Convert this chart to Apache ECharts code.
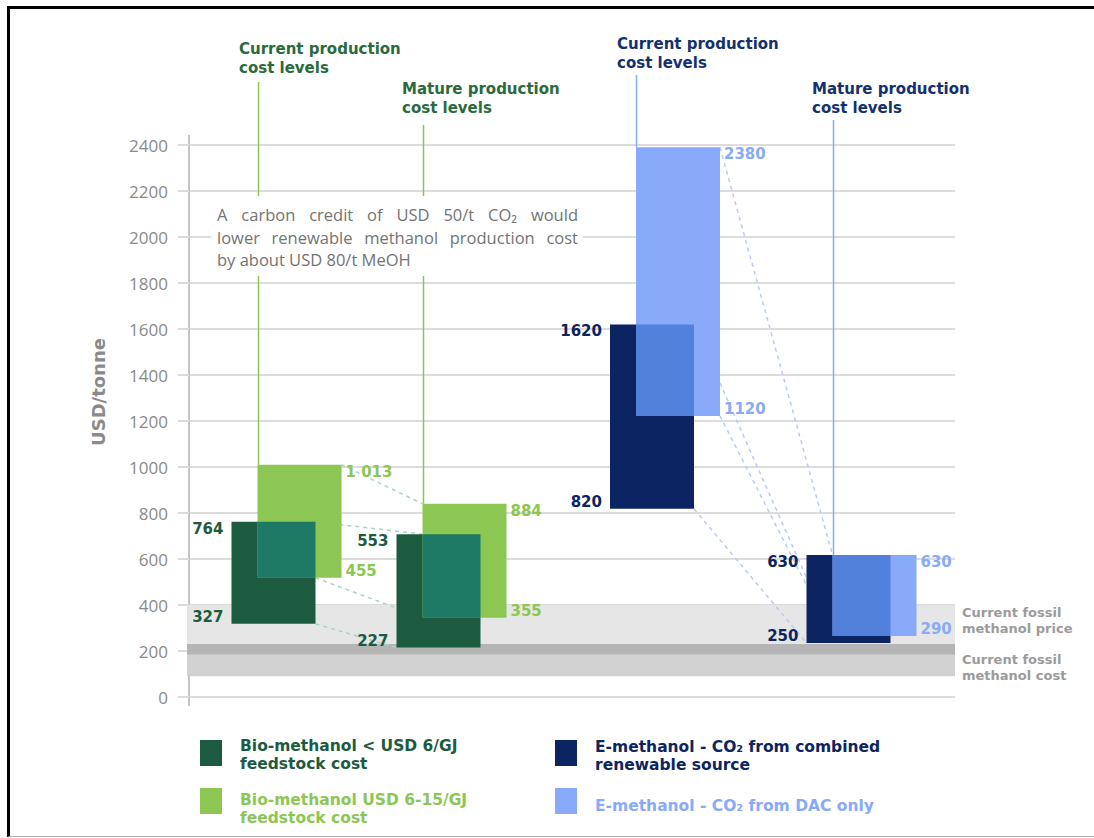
<!DOCTYPE html>
<html>
<head>
<meta charset="utf-8">
<script src="https://cdn.jsdelivr.net/npm/echarts@6.0.0/dist/echarts.min.js"></script>
<style>
  html, body { margin: 0; padding: 0; background: #fff; }
  #c { width: 1094px; height: 838px; }
  #frame { position: absolute; left: 7px; top: 6px; width: 1087px; height: 831px;
           border-top: 3px solid #000; border-left: 3px solid #000; border-bottom: 1px solid #b0b0b0;
           box-sizing: border-box; pointer-events: none; }
</style>
</head>
<body>
<div id="c"></div>
<div id="frame"></div>
<script>
// ================= DATA =================
const stageTitles = ['Current production\ncost levels', 'Mature production\ncost levels'];
const yTicks = [0, 200, 400, 600, 800, 1000, 1200, 1400, 1600, 1800, 2000, 2200, 2400];

// Bio-methanol < USD 6/GJ feedstock cost  (current, mature) — drawn extents
const bioCheapLow  = [318, 215];
const bioCheapHigh = [762, 708];
const bioCheapLowLabel  = ['327', '227'];
const bioCheapHighLabel = ['764', '553'];

// Bio-methanol USD 6-15/GJ feedstock cost
const bioExpLow  = [518, 345];
const bioExpHigh = [1010, 840];
const bioExpLowLabel  = ['455', '355'];
const bioExpHighLabel = ['1 013', '884'];

// E-methanol - CO2 from combined renewable source
const eComLow  = [818, 235];
const eComHigh = [1620, 617];
const eComLowLabel  = ['820', '250'];
const eComHighLabel = ['1620', '630'];

// E-methanol - CO2 from DAC only
const eDacLow  = [1222, 265];
const eDacHigh = [2390, 617];
const eDacLowLabel  = ['1120', '290'];
const eDacHighLabel = ['2380', '630'];

// Fossil reference bands [low, high]
const fossilPrice = [185, 400];
const fossilCost  = [90, 230];

const seriesNames = [
  'Bio-methanol < USD 6/GJ\nfeedstock cost',
  'Bio-methanol USD 6-15/GJ\nfeedstock cost',
  'E-methanol - CO₂ from combined\nrenewable source',
  'E-methanol - CO₂ from DAC only'
];
const bandNames = ['Current fossil\nmethanol price', 'Current fossil\nmethanol cost'];
const noteLines = [
  'A carbon credit of USD 50/t CO₂ would',
  'lower renewable methanol production cost',
  'by about USD 80/t MeOH'
];
const yAxisTitle = 'USD/tonne';

// ================= LAYOUT / STYLE =================
const GRID = { left: 189, top: 145, right: 139, bottom: 141 };
const XMAX = 766;
const GROUP_CENTER = [[97.5, 262.5], [476, 672.5]];   // [family][stage]
const DARK_SPAN = [-55, 29];
const LIGHT_SPAN = [-29, 55];
const C = {
  dGreen: '#1d5b40', lGreen: '#8cc653', teal: '#1e7a64', gDash: '#a9d3c3',
  navy: '#0c2461', lBlue: '#88aaf8', mBlue: '#5281dc', bDash: '#b7cbf6',
  titleGreen: '#2a6a3c', titleNavy: '#14306e',
  grid: '#dcdcdc', axis: '#c4c4c4', tick: '#8a8a8a', note: '#737373', band: '#9b9b9b'
};
const BOLD = 'DejaVu Sans';

const FAM = [
  { dark: { low: bioCheapLow, high: bioCheapHigh, lowLab: bioCheapLowLabel, highLab: bioCheapHighLabel, color: C.dGreen, name: seriesNames[0] },
    light: { low: bioExpLow, high: bioExpHigh, lowLab: bioExpLowLabel, highLab: bioExpHighLabel, color: C.lGreen, name: seriesNames[1] },
    overlap: C.teal, dash: C.gDash, titleColor: C.titleGreen, lineColor: C.lGreen },
  { dark: { low: eComLow, high: eComHigh, lowLab: eComLowLabel, highLab: eComHighLabel, color: C.navy, name: seriesNames[2] },
    light: { low: eDacLow, high: eDacHigh, lowLab: eDacLowLabel, highLab: eDacHighLabel, color: C.lBlue, name: seriesNames[3] },
    overlap: C.mBlue, dash: C.bDash, titleColor: C.titleNavy, lineColor: C.lBlue }
];

// ================= SERIES =================
const series = [];

// fossil bands (+ computed overlap)
const bandOverlap = [[Math.max(fossilPrice[0], fossilCost[0]), Math.min(fossilPrice[1], fossilCost[1])]];
function bandSeries(name, data, color) {
  return {
    type: 'custom', name, z: 1, silent: true, data,
    renderItem: (p, api) => {
      const a = api.coord([0, api.value(1)]);
      const b = api.coord([XMAX, api.value(0)]);
      return { type: 'rect', shape: { x: a[0] - 2, y: a[1], width: b[0] - a[0] + 2, height: b[1] - a[1] }, style: { fill: color } };
    }
  };
}
series.push(bandSeries('Current fossil methanol price', [fossilPrice], '#e6e6e6'));
series.push(bandSeries('Current fossil methanol cost', [fossilCost], '#d2d2d2'));
series.push(bandSeries('fossil overlap', bandOverlap, '#b5b5b5'));

// dashed connectors (current -> mature)
FAM.forEach((f, fi) => {
  const c0 = GROUP_CENTER[fi][0], c1 = GROUP_CENTER[fi][1];
  let conns;
  if (fi === 0) {
    conns = [
      { x: [c0 + LIGHT_SPAN[1], c1 + LIGHT_SPAN[0]], v: [f.light.high[0], f.light.high[1]] },
      { x: [c0 + DARK_SPAN[1], c1 + LIGHT_SPAN[0]], v: [f.dark.high[0], f.dark.high[1]] },
      { x: [c0 + DARK_SPAN[1], c1 + LIGHT_SPAN[0]], v: [f.light.low[0], f.light.low[1]] },
      { x: [c0 + DARK_SPAN[1], c1 + DARK_SPAN[0]], v: [f.dark.low[0], f.dark.low[1]] }
    ];
  } else {
    conns = [
      { x: [c0 + LIGHT_SPAN[1], c1 + LIGHT_SPAN[0]], v: [f.light.high[0], f.light.high[1]] },
      { x: [c0 + DARK_SPAN[1], c1 + LIGHT_SPAN[0]], v: [f.dark.high[0], f.light.low[1]] },
      { x: [c0 + LIGHT_SPAN[1], c1 + LIGHT_SPAN[0]], v: [f.light.low[0], f.light.low[1]] },
      { x: [c0 + DARK_SPAN[1], c1 + DARK_SPAN[0]], v: [f.dark.low[0], f.dark.low[1]] }
    ];
  }
  series.push({
    type: 'custom', name: 'connectors ' + fi, z: 2, silent: true,
    data: conns.map((k, i) => [i, k.v[0], k.v[1]]),
    renderItem: (p, api) => {
      const k = conns[api.value(0)];
      const a = api.coord([k.x[0], api.value(1)]);
      const b = api.coord([k.x[1], api.value(2)]);
      return { type: 'line', shape: { x1: a[0], y1: a[1], x2: b[0], y2: b[1] },
               style: { stroke: f.dash, lineWidth: 1.5, lineDash: [4, 4] } };
    }
  });
});

// vertical stage lines (from title down to top of light bar)
const LINE_TOP = [[82, 125], [75, 120]];
FAM.forEach((f, fi) => {
  series.push({
    type: 'custom', name: 'stage lines ' + fi, z: 2, silent: true,
    data: [0, 1].map(s => [s, f.light.high[s]]),
    renderItem: (p, api) => {
      const s = api.value(0);
      const b = api.coord([GROUP_CENTER[fi][s] + LIGHT_SPAN[0], api.value(1)]);
      const x = Math.round(b[0]) + 0.5;
      return { type: 'line', shape: { x1: x, y1: LINE_TOP[fi][s], x2: x, y2: b[1] },
               style: { stroke: f.lineColor, lineWidth: 1.5 } };
    }
  });
});

// bars with value labels
function barSeries(fi, key) {
  const f = FAM[fi], b = f[key];
  const span = key === 'dark' ? DARK_SPAN : LIGHT_SPAN;
  const left = key === 'dark';
  return {
    type: 'custom', name: b.name, z: 3,
    itemStyle: { color: b.color },
    data: [0, 1].map(s => [s, b.low[s], b.high[s]]),
    renderItem: (p, api) => {
      const s = api.value(0);
      const c = GROUP_CENTER[fi][s];
      const tl = api.coord([c + span[0], api.value(2)]);
      const br = api.coord([c + span[1], api.value(1)]);
      const lx = left ? tl[0] - 8 : br[0] + 4;
      const ts = { fill: b.color, fontSize: 15, fontWeight: 'bold', fontFamily: BOLD, align: left ? 'right' : 'left' };
      return { type: 'group', children: [
        { type: 'rect', shape: { x: tl[0], y: tl[1], width: br[0] - tl[0], height: br[1] - tl[1] }, style: { fill: b.color } },
        { type: 'text', z2: 10, style: Object.assign({ text: b.highLab[s], x: lx, y: tl[1] + 7, verticalAlign: 'middle' }, ts) },
        { type: 'text', z2: 10, style: Object.assign({ text: b.lowLab[s], x: lx, y: br[1] - 7, verticalAlign: 'middle' }, ts) }
      ] };
    }
  };
}
FAM.forEach((f, fi) => { series.push(barSeries(fi, 'dark')); series.push(barSeries(fi, 'light')); });

// overlaps (computed from the two ranges)
FAM.forEach((f, fi) => {
  series.push({
    type: 'custom', name: 'overlap ' + fi, z: 4, silent: true,
    data: [0, 1].map(s => [s, Math.max(f.dark.low[s], f.light.low[s]), Math.min(f.dark.high[s], f.light.high[s])]),
    renderItem: (p, api) => {
      const s = api.value(0);
      const c = GROUP_CENTER[fi][s];
      const tl = api.coord([c + LIGHT_SPAN[0], api.value(2)]);
      const br = api.coord([c + DARK_SPAN[1], api.value(1)]);
      return { type: 'rect', shape: { x: tl[0], y: tl[1], width: br[0] - tl[0], height: br[1] - tl[1] }, style: { fill: f.overlap } };
    }
  });
});

// ================= GRAPHIC (titles, note, legend, band labels) =================
const graphic = [];

// axis line extension (reference axis runs slightly past the plot)
graphic.push({ type: 'line', z: 0, shape: { x1: 189, y1: 135, x2: 189, y2: 706 }, style: { stroke: C.axis, lineWidth: 2 } });

const titlePos = [[[239, 49], [402, 89]], [[617, 44], [812, 89]]];
FAM.forEach((f, fi) => {
  [0, 1].forEach(s => {
    stageTitles[s].split('\n').forEach((line, li) => {
      graphic.push({ type: 'text', x: titlePos[fi][s][0], y: titlePos[fi][s][1] + li * 19, z: 50,
        style: { text: line, fill: f.titleColor, fontSize: 15, fontWeight: 'bold', fontFamily: BOLD, verticalAlign: 'middle' } });
    });
  });
});

// note box
graphic.push({ type: 'rect', x: 211, y: 196, z: 40, shape: { width: 372, height: 80 }, style: { fill: '#fff' } });
const measureCtx = document.createElement('canvas').getContext('2d');
const NOTE_SIZE = 16.5;
function justified(text, x0, x1, y, justify) {
  const words = text.split(' ');
  measureCtx.font = NOTE_SIZE + 'px "Open Sans"';
  const w = words.map(t => measureCtx.measureText(t).width);
  const space = measureCtx.measureText(' ').width;
  const total = w.reduce((a, b) => a + b, 0);
  const gap = justify ? (x1 - x0 - total) / (words.length - 1) : space;
  let x = x0;
  words.forEach((t, i) => {
    graphic.push({ type: 'text', x, y, z: 41,
      style: { text: t, fill: C.note, fontSize: NOTE_SIZE, fontFamily: 'Open Sans', verticalAlign: 'middle' } });
    x += w[i] + gap;
  });
}
justified(noteLines[0], 217, 578, 214, true);
justified(noteLines[1], 217, 578, 237, true);
justified(noteLines[2], 217, 578, 259, false);

// y axis title
graphic.push({ type: 'text', x: 98, y: 392, rotation: Math.PI / 2, z: 50,
  style: { text: yAxisTitle, fill: '#8a8a8a', fontSize: 18, fontWeight: 'bold', fontFamily: BOLD, align: 'center', verticalAlign: 'middle' } });

// band labels
const bandLabelPos = [[962, 612], [962, 659]];
bandNames.forEach((t, i) => {
  t.split('\n').forEach((line, li) => {
    graphic.push({ type: 'text', x: bandLabelPos[i][0], y: bandLabelPos[i][1] + li * 16, z: 50,
      style: { text: line, fill: C.band, fontSize: 13, fontWeight: 'bold', fontFamily: BOLD, verticalAlign: 'middle' } });
  });
});

// legend
const legendPos = [[200, 740], [200, 788], [555, 740], [555, 788]];
const legendTextDy = [6, 12, 7, 18];
const legendCol = [C.dGreen, C.lGreen, C.navy, C.lBlue];
seriesNames.forEach((n, i) => {
  const [x, y] = legendPos[i];
  graphic.push({ type: 'rect', x, y, z: 50, shape: { width: 22, height: 26 }, style: { fill: legendCol[i] } });
  n.split('\n').forEach((line, li) => {
    graphic.push({ type: 'text', x: x + 40, y: y + legendTextDy[i] + li * 17.5, z: 50,
      style: { text: line, fill: legendCol[i], fontSize: 15.5, fontWeight: 'bold', fontFamily: BOLD, verticalAlign: 'middle' } });
  });
});

// ================= CHART =================
const chart = echarts.init(document.getElementById('c'), null, { renderer: 'svg', width: 1094, height: 838 });
chart.setOption({
  backgroundColor: '#fff',
  animation: false,
  grid: { left: GRID.left, top: GRID.top, right: GRID.right, bottom: GRID.bottom, containLabel: false },
  xAxis: { type: 'value', min: 0, max: XMAX, show: false },
  yAxis: {
    type: 'value', min: yTicks[0], max: yTicks[yTicks.length - 1], interval: yTicks[1] - yTicks[0],
    axisLine: { show: true, lineStyle: { color: C.axis, width: 2 } },
    axisTick: { show: true, length: 11, lineStyle: { color: C.grid, width: 2 } },
    axisLabel: { color: C.tick, fontSize: 17, fontFamily: 'Open Sans', margin: 21,
                 formatter: v => yTicks.includes(v) ? String(v) : '' },
    splitLine: { show: true, lineStyle: { color: C.grid, width: 2 } }
  },
  series,
  graphic
});
</script>
</body>
</html>
